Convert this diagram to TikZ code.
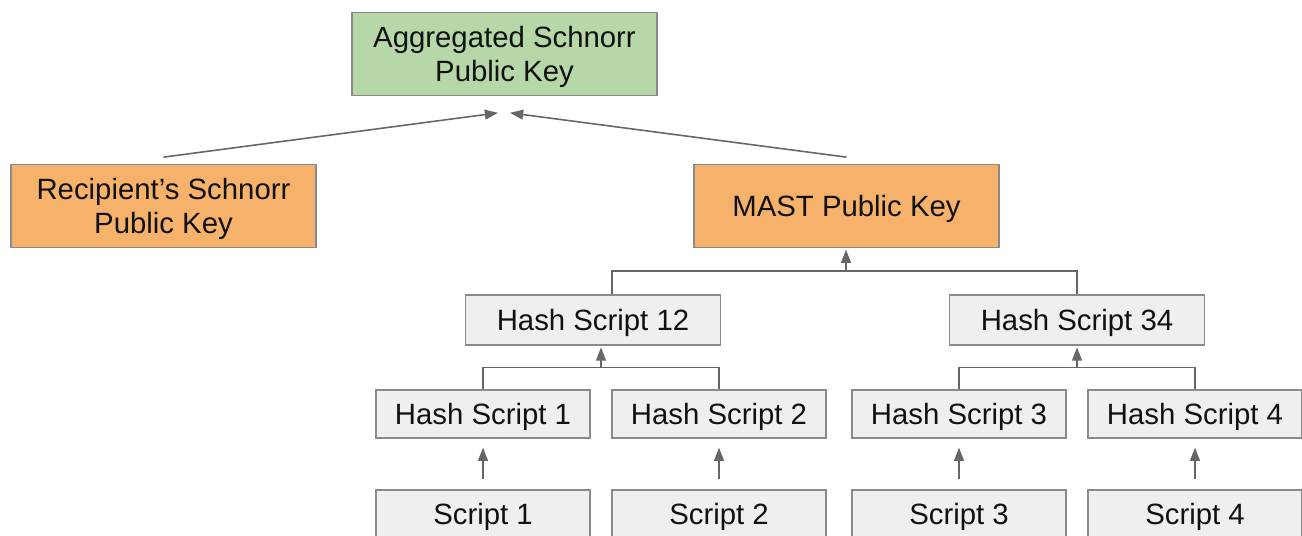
\documentclass[tikz,border=0pt]{standalone}
\usepackage{fontspec}
\setmainfont{Liberation Sans}
\usetikzlibrary{arrows.meta,positioning,calc}
\definecolor{verde}{HTML}{B6D7A8}
\definecolor{naranja}{HTML}{F6B26B}
\definecolor{gris}{HTML}{EFEFEF}
\definecolor{borde}{HTML}{8A8A8A}
\definecolor{trazo}{HTML}{666666}
\definecolor{tinta}{HTML}{111111}
\newcommand{\puntal}{\rule[-3.5pt]{0pt}{18.4pt}}
\tikzset{
  caja/.style={draw=borde,line width=0.7pt,inner sep=0pt,align=center,text=tinta,
    font=\fontsize{16.7}{19.4}\selectfont},
  clave/.style={caja,minimum width=6.1cm,minimum height=1.65cm},
  linea/.style={text height=14.9pt,text depth=3.5pt},
  hashmedio/.style={caja,linea,fill=gris,minimum width=5.1cm,minimum height=1cm},
  hoja/.style={caja,linea,fill=gris,minimum width=4.28cm,minimum height=0.96cm},
  enlace/.style={trazo,line width=0.9pt},
  flecha/.style={enlace,-{Triangle[length=7.5pt,width=5.6pt]}},
}
% barra que une dos hijos y sube al padre
\newcommand{\rama}[4]{%
  \draw[enlace] (#1) |- (#4) -| (#2);
  \draw[flecha,shorten >=1pt] (#4) -- (#4 |- #3.south);}

\begin{document}
\begin{tikzpicture}[x=0.02cm,y=-0.02cm]
  \useasboundingbox (0,0) rectangle (1302,535);
  \clip (0,0) rectangle (1302,535);
  % claves
  \node[clave,fill=verde] (agg) at (504.5,54) {\puntal Aggregated Schnorr\\Public Key};
  \node[clave,fill=naranja] (rec) at (163.5,206) {\puntal Recipient’s Schnorr\\Public Key};
  \node[clave,fill=naranja] (mast) at (846.5,206) {\puntal MAST Public Key};
  \draw[flecha] ([yshift=0.14cm]rec.north) -- ([xshift=-0.13cm,yshift=-0.34cm]agg.south);
  \draw[flecha] ([yshift=0.14cm]mast.north) -- ([xshift=0.11cm,yshift=-0.34cm]agg.south);
  % hashes intermedios
  \node[hashmedio] (h12) at (593,320) {Hash Script 12};
  \node[hashmedio] (h34) at (1077,320) {Hash Script 34};
  \coordinate (bM) at (846,271);
  \rama{[xshift=0.38cm]h12.north}{h34.north}{mast}{bM}
  % hojas
  \foreach \i/\x in {1/483,2/719,3/959,4/1195} {
    \node[hoja] (h\i) at (\x,414) {Hash Script \i};
    \node[hoja] (s\i) at (\x,514) {Script \i};
    \draw[flecha] ([yshift=0.2cm]s\i.north) -- ([yshift=-0.18cm]h\i.south);
  }
  \coordinate (b12) at ($(h1.north)!0.5!(h2.north)+(0,-22)$);
  \coordinate (b34) at ($(h3.north)!0.5!(h4.north)+(0,-22)$);
  \rama{h1.north}{h2.north}{h12}{b12}
  \rama{h3.north}{h4.north}{h34}{b34}
\end{tikzpicture}
\end{document}
